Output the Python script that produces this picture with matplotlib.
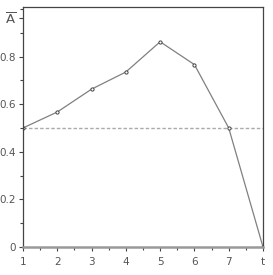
import numpy as np
import matplotlib
matplotlib.use('Agg')
import matplotlib.pyplot as plt
from matplotlib.ticker import MultipleLocator

# values
steps = [1, 2, 3, 4, 5, 6, 7, 8]
values = [0.5, 0.567, 0.663, 0.735, 0.862, 0.766, 0.5, 0.0]
ref_level = 0.5
xtick_labels = ['1', '2', '3', '4', '5', '6', '7', 't']
ytick_vals = [0, 0.2, 0.4, 0.6, 0.8, 0.96]
ytick_labels = ['0', '0.2', '0.4', '0.6', '0.8', r'$\overline{\mathrm{A}}$']

fig = plt.figure(figsize=(2.73, 2.75), dpi=100)
ax = fig.add_axes([23 / 273, 28 / 275, 240 / 273, 240 / 275])

ax.plot([steps[0], steps[-1]], [ref_level, ref_level], color='#aaaaaa',
        lw=1.0, ls=(0, (2.5, 1.5)))
ax.plot(steps, values, color='#808080', lw=0.9, marker='o', ms=2.3,
        mfc='white', mec='#444444', mew=0.7)

ax.set_xlim(1, 8)
ax.set_ylim(0, 1.008)
ax.set_xticks(steps)
ax.set_xticklabels(xtick_labels)
ax.xaxis.set_minor_locator(MultipleLocator(0.5))
ax.set_yticks(ytick_vals)
ax.set_yticklabels(ytick_labels)
ax.yaxis.set_minor_locator(MultipleLocator(0.1))
ax.get_yticklabels()[-1].set_fontsize(9.5)

for side in ['left', 'top', 'right']:
    ax.spines[side].set_color('#444444')
    ax.spines[side].set_linewidth(0.9)
ax.spines['bottom'].set_color('#999999')
ax.spines['bottom'].set_linewidth(1.8)

ax.tick_params(axis='both', which='major', length=3, width=0.8,
               color='#444444', labelsize=7.5, labelcolor='#555555')
ax.tick_params(axis='x', which='major', pad=4)
ax.tick_params(axis='y', which='major', pad=2)
ax.tick_params(axis='both', which='minor', length=2, width=0.8, color='#444444')
ax.get_yticklabels()[-1].set_fontsize(9.5)

fig.savefig('out.png', dpi=100)
